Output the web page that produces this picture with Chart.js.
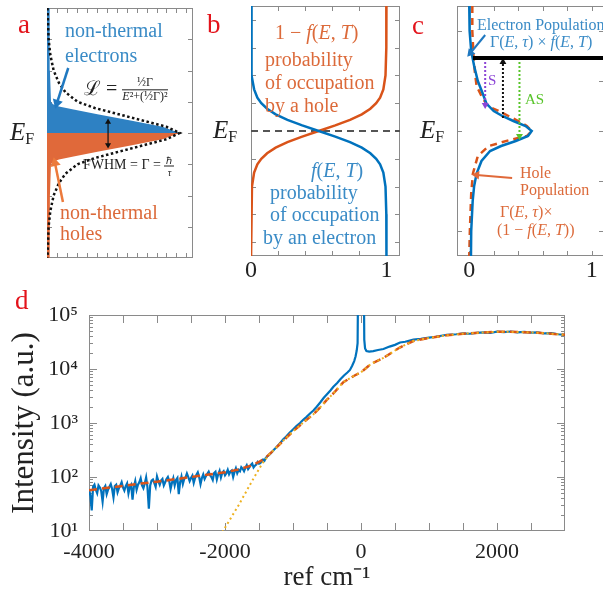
<!DOCTYPE html>
<html>
<head>
<meta charset="utf-8">
<script src="https://cdn.jsdelivr.net/npm/chart.js@4.4.1/dist/chart.umd.min.js"></script>
<style>
html,body{margin:0;padding:0;background:#fff;overflow:hidden;width:603px;height:597px}
#fig{position:relative;width:603px;height:597px;overflow:hidden}
canvas{position:absolute}
.t{position:absolute;white-space:nowrap;font-family:'Liberation Serif',serif;line-height:1;transform:translateY(-50%)}
.lbl{color:#e3131b;font-size:27px}
.blu{color:#3a8bc6}
.org{color:#dc6a3a}
.ef{font-size:25px;color:#222}
.ef sub{font-size:16px;vertical-align:-4px}
.frac{display:inline-block;vertical-align:middle;text-align:center;line-height:1.1}
.frac span{display:block}
.frac .num{border-bottom:1px solid #222;padding:0 2px}
</style>
</head>
<body>
<div id="fig">
<canvas id="ca" width="200" height="290" style="left:0;top:0"></canvas>
<canvas id="cb" width="210" height="290" style="left:200px;top:0"></canvas>
<canvas id="cc" width="210" height="290" style="left:405px;top:0"></canvas>
<canvas id="cd" width="603" height="312" style="left:0;top:285px"></canvas>

<div class="t lbl" style="left:18px;top:24px">a</div>
<div class="t lbl" style="left:207px;top:24px">b</div>
<div class="t lbl" style="left:412px;top:25px">c</div>
<div class="t lbl" style="left:15px;top:300px">d</div>

<div class="t ef" style="left:10px;top:133px"><i>E</i><sub>F</sub></div>
<div class="t ef" style="left:213px;top:131px"><i>E</i><sub>F</sub></div>
<div class="t ef" style="left:420px;top:131px"><i>E</i><sub>F</sub></div>

<!-- panel a text -->
<div class="t blu" style="left:65px;top:30px;font-size:20px">non-thermal</div>
<div class="t blu" style="left:65px;top:55px;font-size:20px">electrons</div>
<div class="t" style="left:84px;top:90px;font-size:20px;color:#222">ℒ = <span class="frac" style="font-size:12px"><span class="num">½Γ</span><span><i>E</i>²+(½Γ)²</span></span></div>
<div class="t" style="left:83px;top:166px;font-size:14px;color:#222">FWHM = Γ = <span class="frac" style="font-size:10px"><span class="num">ℏ</span><span><i>τ</i></span></span></div>
<div class="t org" style="left:60px;top:212px;font-size:20px">non-thermal</div>
<div class="t org" style="left:60px;top:233px;font-size:20px">holes</div>

<!-- panel b text -->
<div class="t org" style="left:275px;top:32px;font-size:20px">1 − <i>f</i>(<i>E</i>, <i>T</i>)</div>
<div class="t org" style="left:265px;top:59px;font-size:20px">probability</div>
<div class="t org" style="left:265px;top:82px;font-size:20px">of occupation</div>
<div class="t org" style="left:265px;top:105px;font-size:20px">by a hole</div>
<div class="t blu" style="left:311px;top:170px;font-size:20px"><i>f</i>(<i>E</i>, <i>T</i>)</div>
<div class="t blu" style="left:270px;top:192px;font-size:20px">probability</div>
<div class="t blu" style="left:270px;top:214px;font-size:20px">of occupation</div>
<div class="t blu" style="left:263px;top:237px;font-size:20px">by an electron</div>

<!-- panel c text -->
<div class="t blu" style="left:477px;top:25px;font-size:16px">Electron Population</div>
<div class="t blu" style="left:490px;top:42px;font-size:16px">Γ(<i>E</i>, <i>τ</i>) × <i>f</i>(<i>E</i>, <i>T</i>)</div>
<div class="t" style="left:488px;top:80px;font-size:15px;color:#8d46d6">S</div>
<div class="t" style="left:525px;top:99px;font-size:15px;color:#58c42a">AS</div>
<div class="t org" style="left:520px;top:173px;font-size:16px">Hole</div>
<div class="t org" style="left:520px;top:190px;font-size:16px">Population</div>
<div class="t org" style="left:500px;top:212px;font-size:16px">Γ(<i>E</i>, <i>τ</i>)×</div>
<div class="t org" style="left:497px;top:230px;font-size:16px">(1 − <i>f</i>(<i>E</i>, <i>T</i>))</div>
</div>

<script>
// ---- panel a : Lorentzian and non-thermal carriers
const aLorE  = [4, 3, 2.5, 2, 1.6, 1.3, 1, 0.8, 0.6, 0.4, 0.2, 0, -0.2, -0.4, -0.6, -0.8, -1, -1.3, -1.6, -2, -2.5, -3, -4];
const aLorX  = [0.004, 0.012, 0.025, 0.05, 0.09, 0.14, 0.23, 0.36, 0.54, 0.72, 0.9, 1, 0.9, 0.72, 0.54, 0.36, 0.23, 0.14, 0.09, 0.05, 0.025, 0.012, 0.004];
const aElecE = [0, 0, 0.2, 0.4, 0.6, 0.75, 0.85, 0.92, 1, 2, 4, 4];
const aElecX = [0, 1, 0.87, 0.63, 0.38, 0.2, 0.09, 0.045, 0.03, 0.022, 0.02, 0];
const aHoleE = [0, 0, -0.2, -0.4, -0.6, -0.75, -0.85, -0.92, -1, -2, -4, -4];
const aHoleX = [0, 1, 0.87, 0.63, 0.38, 0.2, 0.09, 0.045, 0.03, 0.022, 0.02, 0];
const aTicksX = [0.075, 0.15, 0.225, 0.3, 0.375, 0.45, 0.525, 0.6, 0.675, 0.75, 0.825, 0.9, 0.975, 1.05];
const aTicksY = [-3, -2, -1, 0, 1, 2, 3];

// ---- panel b : Fermi function
const bE    = [4.5, 3, 2, 1.5, 1.2, 1, 0.8, 0.6, 0.4, 0.2, 0, -0.2, -0.4, -0.6, -0.8, -1, -1.2, -1.5, -2, -3, -4.5];
const bElec = [0, 0.001, 0.007, 0.023, 0.047, 0.076, 0.119, 0.182, 0.269, 0.378, 0.5, 0.622, 0.731, 0.818, 0.881, 0.924, 0.953, 0.977, 0.993, 0.999, 1];
const bHole = [1, 0.999, 0.993, 0.977, 0.953, 0.924, 0.881, 0.818, 0.731, 0.622, 0.5, 0.378, 0.269, 0.182, 0.119, 0.076, 0.047, 0.023, 0.007, 0.001, 0];
const bTicksY = [-4, -3, -2, -1, 0, 1, 2, 3, 4];
const occTicks = [0, 0.2, 0.4, 0.6, 0.8, 1];

// ---- panel c : populations
const cElecE = [2.5, 2, 1.6, 1.3, 1, 0.75, 0.55, 0.4, 0.3, 0.2, 0.1, 0, -0.1, -0.2, -0.3, -0.4, -0.6, -0.85, -1.1, -1.4, -2, -2.5];
const cElec  = [0, 0.003, 0.016, 0.04, 0.07, 0.11, 0.14, 0.2, 0.27, 0.36, 0.46, 0.51, 0.48, 0.38, 0.26, 0.17, 0.1, 0.06, 0.04, 0.028, 0.016, 0.014];
const cHoleE = [2.5, 2, 1.5, 1.2, 0.9, 0.7, 0.5, 0.4, 0.3, 0.2, 0.1, 0, -0.1, -0.18, -0.3, -0.5, -0.85, -1.25, -2, -2.5];
const cHole  = [0.025, 0.025, 0.035, 0.045, 0.06, 0.1, 0.15, 0.24, 0.32, 0.4, 0.47, 0.51, 0.47, 0.33, 0.16, 0.07, 0.03, 0.016, 0.005, 0];
const cTicksY = [-2, -1, 0, 1, 2];
const cLevelE = 1.46;

// ---- panel d : spectrum
const dDataX = [-4000,-3980,-3960,-3940,-3920,-3900,-3880,-3860,-3840,-3820,-3800,-3780,-3760,-3740,-3720,-3700,-3680,-3660,-3640,-3620,
  -3600,-3580,-3560,-3540,-3520,-3500,-3480,-3460,-3440,-3420,-3400,-3380,-3360,-3340,-3320,-3300,-3280,-3260,-3240,-3220,
  -3200,-3180,-3160,-3140,-3120,-3100,-3080,-3060,-3040,-3020,-3000,-2980,-2960,-2940,-2920,-2900,-2880,-2860,-2840,-2820,
  -2800,-2780,-2760,-2740,-2720,-2700,-2680,-2660,-2640,-2620,-2600,-2580,-2560,-2540,-2520,-2500,-2480,-2460,-2440,-2420,
  -2400,-2380,-2360,-2340,-2320,-2300,-2280,-2260,-2240,-2220,-2200,-2180,-2160,-2140,-2120,-2100,-2080,-2060,-2040,-2020,
  -2000,-1980,-1960,-1940,-1920,-1900,-1880,-1860,-1840,-1820,-1800,-1780,-1760,-1740,-1720,-1700,-1680,-1660,-1640,-1620,
  -1600,-1580,-1560,-1540,-1520,-1500,-1480,-1460,-1440,-1420,-1400,-1380,-1360,-1340,-1320,
  -1280,-1240,-1200,-1143,-1100,-1050,-1000,-950,-897,-850,-800,-750,
  -700,-651,-600,-550,-500,-450,-406,-350,-300,-250,-200,-162,-130,-100,-80,-63,-50,-40,40,48,
  60,80,120,180,250,330,420,500,574,650,770,880,1000,1100,1260,1400,1500,1600,1700,1800,
  1900,2000,2100,2200,2300,2400,2500,2600,2700,2800,2900,3000];
const dDataY = [60,45,24,66,72,58,50,70,64,55,35,62,68,48,58,66,74,60,42,68,
  72,52,62,70,80,64,56,68,76,50,66,72,38,66,84,58,72,80,95,70,
  62,76,98,64,26,70,86,90,78,66,102,84,72,86,92,70,80,92,100,84,
  60,78,95,70,88,96,48,80,102,74,92,98,116,100,84,96,106,78,96,110,
  122,100,74,96,112,92,104,115,126,108,100,88,118,125,90,112,130,98,120,128,
  108,118,136,112,126,132,100,124,145,118,135,128,152,142,128,148,165,140,152,168,
  178,150,162,170,190,176,180,196,210,200,225,240,252,265,280,
  320,360,410,500,560,660,760,880,1000,1150,1300,1500,
  1700,2000,2400,2900,3400,4000,4700,5500,6500,7600,8600,9600,11500,14000,17000,22000,30000,1000000,1000000,35000,
  24000,21500,21000,21500,22500,23500,26000,28000,31000,32000,35000,36000,38000,39500,43000,44000,45500,45000,46500,47500,
  46500,49000,48000,49500,47500,48500,47000,47500,45500,46000,44000,43000];
const dFitX = [-4000,-3600,-3300,-3000,-2700,-2400,-2000,-1800,-1600,-1500,-1400,-1300,-1200,-1100,-1000,-900,-800,-700,-600,-500,
  -400,-260,-100,0,150,330,570,770,1000,1260,1500,1800,2040,2300,2600,2800,3000];
const dFitY = [57,66,74,82,92,104,122,138,165,190,230,300,400,530,700,900,1150,1450,1950,2700,
  3600,5700,7500,8700,12500,16000,25000,33000,37500,42000,45000,47500,49000,48500,47000,45000,43000];
const dThermX = [-2040,-1800,-1600,-1450,-1350,-1300,-1200,-1100,-1000,-900,-800,-700,-600,-500,
  -400,-260,-100,0,150,330,570,770,1000,1260,1500,1800,2040,2300,2600,2800,3000];
const dThermY = [9.5,30,85,180,260,300,400,530,700,900,1150,1450,1950,2700,
  3600,5700,7500,8700,12500,16000,25000,33000,37500,42000,45000,47500,49000,48500,47000,45000,43000];
const dTicksX = [-3500, -3000, -2500, -2000, -1500, -1000, -500, 0, 500, 1000, 1500, 2000, 2500];
const dTickLabels = [-4000, -2000, 0, 2000];
const dDecades = [10, 100, 1000, 10000, 100000];

// arrows, [x0, y0, x1, y1, head rotation]
const aArrowElec = [0.16, 2.08, 0.075, 0.96, 197];
const aArrowHole = [0.12, -2.21, 0.06, -0.96, 348];
const aFwhm = [0.46, 0.35, 0.46, -0.38, 180];
const cArrowS = [0.13, cLevelE, 0.13, 0.52, 180];
const cArrowR = [0.275, 0.26, 0.275, 1.38, 0];
const cArrowAS = [0.41, cLevelE, 0.41, -0.1, 180];
const cArrowElec = [0.13, 1.92, 0.01, 1.56, 220];
const cArrowHole = [0.35, -0.94, 0.06, -0.88, 275];

const BLUE = '#0072BD', ORANGE = '#D95319', YELLOW = '#EDB120';
const SERIF = "'Liberation Serif', serif";
const SUP = {1: '¹', 2: '²', 3: '³', 4: '⁴', 5: '⁵'};

Chart.defaults.font.family = SERIF;

function pts(xs, ys) { return xs.map((x, i) => ({x: x, y: ys[i]})); }

function line(data, color, width, dash) {
  return {data: data, showLine: true, borderColor: color, borderWidth: width,
    borderDash: dash || [], pointRadius: 0, fill: false};
}

function arrow(a, color, width, dash, r) {
  return {data: [{x: a[0], y: a[1]}, {x: a[2], y: a[3]}], showLine: true,
    borderColor: color, borderWidth: width, borderDash: dash || [],
    pointStyle: 'triangle', pointRadius: [0, r || 5], pointRotation: [0, a[4]],
    pointBackgroundColor: color, pointBorderColor: color, pointBorderWidth: 0};
}

const fixTicks = vals => s => { s.ticks = vals.map(v => ({value: v})); };

// box round the axes with the ticks pointing inwards
const frameTicks = {
  id: 'frameTicks',
  beforeDatasetsDraw(chart, args, o) {
    const {ctx, chartArea: ca} = chart;
    const sx = chart.scales.x, sy = chart.scales.y;
    ctx.save();
    ctx.strokeStyle = o.color;
    ctx.lineWidth = 1;
    ctx.strokeRect(ca.left + 0.5, ca.top + 0.5, ca.width - 1, ca.height - 1);
    ctx.beginPath();
    sx.ticks.forEach(t => {
      const p = Math.round(sx.getPixelForValue(t.value)) + 0.5;
      if (p < ca.left + 2 || p > ca.right - 2) return;
      ctx.moveTo(p, ca.bottom); ctx.lineTo(p, ca.bottom - o.len);
      ctx.moveTo(p, ca.top); ctx.lineTo(p, ca.top + o.len);
    });
    const yt = (v, len) => {
      const p = Math.round(sy.getPixelForValue(v)) + 0.5;
      if (p < ca.top + 2 || p > ca.bottom - 2) return;
      ctx.moveTo(ca.left, p); ctx.lineTo(ca.left + len, p);
      ctx.moveTo(ca.right, p); ctx.lineTo(ca.right - len, p);
    };
    sy.ticks.forEach(t => yt(t.value, o.len));
    if (o.logMinor) {
      for (let k = 1; k < 5; k++)
        for (let m = 2; m < 10; m++) yt(m * Math.pow(10, k), o.minorLen);
    }
    ctx.stroke();
    ctx.restore();
  }
};

function baseOpts(pad, xs, ys, frame) {
  return {
    responsive: false, animation: false, devicePixelRatio: 1, events: [],
    layout: {padding: pad},
    plugins: {legend: {display: false}, tooltip: {enabled: false}, frameTicks: frame},
    scales: {x: xs, y: ys}
  };
}

const tickFont = {family: SERIF, size: 24};
const hidden = {grid: {display: false, drawTicks: false}, border: {display: false}};
const occLabel = v => (v === 0 || v === 1) ? String(v) : '';

// panel a
new Chart(document.getElementById('ca'), {
  type: 'scatter',
  plugins: [frameTicks],
  data: {datasets: [
    Object.assign(arrow(aFwhm, '#111', 1.2, [], 3.5), {pointRadius: [3.5, 3.5], pointRotation: [0, 180]}),
    arrow(aArrowElec, '#1f78c0', 2.5, [], 6),
    arrow(aArrowHole, '#ec7a3c', 2.5, [], 6),
    line(pts(aLorX, aLorE), '#111', 2.5, [2.5, 2.5]),
    Object.assign(line(pts(aElecX, aElecE), '#2e81c3', 0), {fill: 'shape', backgroundColor: '#2e81c3'}),
    Object.assign(line(pts(aHoleX, aHoleE), '#e0693a', 0), {fill: 'shape', backgroundColor: '#e0693a'})
  ]},
  options: baseOpts({left: 47, right: 7, top: 8, bottom: 0},
    Object.assign({type: 'linear', min: 0, max: 1.1, afterBuildTicks: fixTicks(aTicksX),
      ticks: {callback: () => ''}, afterFit: s => { s.height = 32; }}, hidden),
    Object.assign({type: 'linear', min: -4, max: 4, display: false, afterBuildTicks: fixTicks(aTicksY)}, hidden),
    {color: '#8a8a8a', len: 5})
});

// panel b
new Chart(document.getElementById('cb'), {
  type: 'scatter',
  plugins: [frameTicks],
  data: {datasets: [
    line(pts(bElec, bE), BLUE, 2.5),
    line(pts(bHole, bE), ORANGE, 2.5),
    line([{x: 0, y: 0}, {x: 1.1, y: 0}], '#555', 2, [7, 5])
  ]},
  options: baseOpts({left: 51, right: 10, top: 6, bottom: 0},
    Object.assign({type: 'linear', min: 0, max: 1.1, afterBuildTicks: fixTicks(occTicks),
      ticks: {padding: 0, color: '#222', font: tickFont, maxRotation: 0, autoSkip: false, callback: occLabel},
      afterFit: s => { s.height = 34; }}, hidden),
    Object.assign({type: 'linear', min: -4.5, max: 4.5, display: false, afterBuildTicks: fixTicks(bTicksY)}, hidden),
    {color: '#8a8a8a', len: 5})
});

// panel c
new Chart(document.getElementById('cc'), {
  type: 'scatter',
  plugins: [frameTicks],
  data: {datasets: [
    line([{x: 0.03, y: cLevelE}, {x: 1.1, y: cLevelE}], '#000', 4),
    arrow(cArrowS, '#8d46d6', 2, [2, 2], 4),
    arrow(cArrowR, '#111', 2, [2, 2], 4),
    arrow(cArrowAS, '#58c42a', 2, [2, 2], 4),
    arrow(cArrowElec, '#1f78c0', 2, [], 5),
    arrow(cArrowHole, '#e0693a', 2, [], 5),
    line(pts(cElec, cElecE), BLUE, 2.5),
    line(pts(cHole, cHoleE), ORANGE, 2.5, [7, 5])
  ]},
  options: baseOpts({left: 52, right: 11, top: 6, bottom: 0},
    Object.assign({type: 'linear', min: -0.1, max: 1.1, afterBuildTicks: fixTicks(occTicks),
      ticks: {padding: 0, color: '#222', font: tickFont, maxRotation: 0, autoSkip: false, callback: occLabel},
      afterFit: s => { s.height = 34; }}, hidden),
    Object.assign({type: 'linear', min: -2.5, max: 2.5, display: false, afterBuildTicks: fixTicks(cTicksY)}, hidden),
    {color: '#8a8a8a', len: 5})
});

// panel d
new Chart(document.getElementById('cd'), {
  type: 'scatter',
  plugins: [frameTicks],
  data: {datasets: [
    line(pts(dThermX, dThermY), YELLOW, 2, [2, 3]),
    line(pts(dFitX, dFitY), ORANGE, 2.5, [8, 5]),
    line(pts(dDataX, dDataY), BLUE, 2.2)
  ]},
  options: baseOpts({left: 0, right: 38, top: 30, bottom: 0},
    Object.assign({type: 'linear', min: -4000, max: 3000,
      afterBuildTicks: fixTicks([-4000].concat(dTicksX, [3000])),
      ticks: {padding: 8, color: '#222', font: {family: SERIF, size: 22}, maxRotation: 0, autoSkip: false,
        callback: v => dTickLabels.includes(v) ? String(v) : ''},
      title: {display: true, text: 'ref cm⁻¹', color: '#222', font: {family: SERIF, size: 27}, padding: {top: 0, bottom: 3}},
      afterFit: s => { s.height = 66; }}, hidden),
    Object.assign({type: 'logarithmic', min: 10, max: 100000,
      afterBuildTicks: fixTicks(dDecades),
      ticks: {padding: 11, color: '#222', font: {family: SERIF, size: 22},
        callback: v => '10' + SUP[Math.round(Math.log10(v))]},
      title: {display: true, text: 'Intensity (a.u.)', color: '#222', font: {family: SERIF, size: 31}, padding: {top: 6, bottom: 0}},
      afterFit: s => { s.width = 89; }}, hidden),
    {color: '#8a8a8a', len: 8, logMinor: true, minorLen: 4})
});
</script>
</body>
</html>
